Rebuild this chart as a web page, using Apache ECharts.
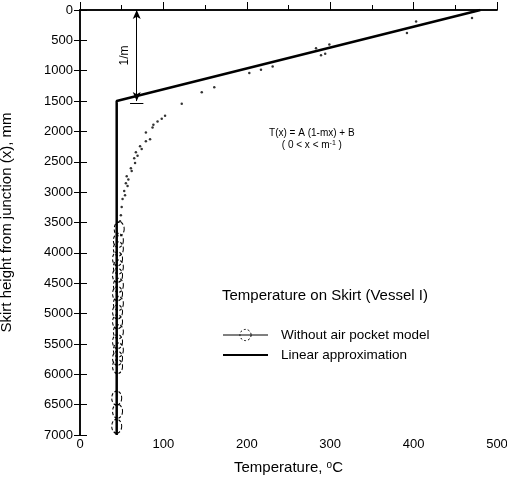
<!DOCTYPE html>
<html><head><meta charset="utf-8">
<script src="https://cdn.jsdelivr.net/npm/echarts/dist/echarts.min.js"></script>
<style>html,body{margin:0;padding:0;background:#fff}#c{width:507px;height:491px}</style>
</head><body><div id="c"></div>
<script>
// ---- data ----
const xTickLabels = [0, 100, 200, 300, 400, 500];
const yTickLabels = [0,500,1000,1500,2000,2500,3000,3500,4000,4500,5000,5500,6000,6500,7000];
// Linear approximation (Temperature, depth)
const linearT = [44, 44, 480];
const linearD = [7000, 1500, 0];
// Without air pocket model: upper small points
const dotsT = [472,470,403,392,299,283,294,289,231,217,203,161,146,122,102,98,93,88,87,79,84,79,72,74,67,69,65,66,61,62,56,58,55,57,53,54,51,50,49,48];
const dotsD = [20,130,190,377,568,628,721,745,929,983,1038,1273,1355,1545,1740,1790,1836,1890,1934,2016,2130,2160,2246,2290,2344,2400,2442,2520,2606,2650,2737,2790,2852,2900,2983,3050,3114,3245,3380,3480];
// Without air pocket model: lower circles
const circT = [47,46,46,45,46,45,46,45,46,45,45,46,45,46,45,45,44,45,44];
const circD = [3606,3797,3934,4098,4234,4371,4535,4672,4835,4972,5135,5299,5463,5600,5737,5873,6392,6610,6856];
// 1/m annotation
const arrowT = 68, arrowD = [1500, 0];
const formulaLines = ['T(x) = A (1-mx) + B', '( 0 < x < m{sup|-1} )'];
const formulaAt = [278, 2026];

const zip = (a, b) => a.map((v, i) => [v, b[i]]);
const FONT = '"Liberation Sans", Arial, sans-serif';

const chart = echarts.init(document.getElementById('c'));
chart.setOption({
  animation: false,
  textStyle: { fontFamily: FONT, color: '#000' },
  title: {
    text: 'Temperature on Skirt (Vessel I)',
    left: 222, top: 288, padding: 0,
    textStyle: { fontFamily: FONT, fontSize: 15, fontWeight: 'normal', color: '#000' }
  },
  legend: {
    orient: 'vertical', left: 222, top: 328, padding: 0,
    itemWidth: 45, itemHeight: 14, itemGap: 6,
    textStyle: { fontFamily: FONT, fontSize: 13.5, color: '#000', padding: [0,0,0,8] },
    data: [
      { name: 'Without air pocket model',
        lineStyle: { opacity: 1, width: 1, color: '#000' },
        itemStyle: { color: 'rgba(255,255,255,0)', borderColor: '#000', borderWidth: 1, borderType: [2, 2] } },
      { name: 'Linear approximation',
        lineStyle: { opacity: 1, width: 2, color: '#000' },
        itemStyle: { opacity: 0 } }
    ]
  },
  grid: { left: 80, right: 10, top: 10, bottom: 56, outerBoundsMode: 'none', containLabel: false },
  xAxis: [{
    type: 'value', min: 0, max: 500, interval: 100,
    name: 'Temperature, {sup|o}C', nameLocation: 'middle', nameGap: 25,
    nameTextStyle: { fontFamily: FONT, fontSize: 15, color: '#000',
      rich: { sup: { fontSize: 10, verticalAlign: 'top', padding: [0,0,6,0], fontFamily: FONT } } },
    axisLine: { show: true, lineStyle: { color: '#000', width: 1.5 } },
    axisTick: { inside: true, length: 8, lineStyle: { color: '#000' } },
    minorTick: { show: true, splitNumber: 2, length: 5, lineStyle: { color: '#000' } },
    splitLine: { show: false },
    axisLabel: { margin: 3, fontSize: 13, color: '#000', fontFamily: FONT,
      formatter: v => xTickLabels.includes(v) ? String(v) : '' }
  }, {
    type: 'value', min: 0, max: 500, interval: 100, position: 'top',
    axisLine: { show: true, lineStyle: { color: '#000', width: 1.5 } },
    axisTick: { show: false }, axisLabel: { show: false }, splitLine: { show: false }
  }],
  yAxis: [{
    type: 'value', inverse: true, min: 0, max: 7000, interval: 500,
    name: 'Skirt height from junction (x), mm', nameLocation: 'middle', nameGap: 66,
    nameTextStyle: { fontFamily: FONT, fontSize: 15, color: '#000' },
    axisLine: { show: true, lineStyle: { color: '#000', width: 1.5 } },
    axisTick: { inside: true, length: 7, lineStyle: { color: '#000' } },
    splitLine: { show: false },
    axisLabel: { margin: 7, fontSize: 13, color: '#000', fontFamily: FONT,
      formatter: v => yTickLabels.includes(v) ? String(v) : '' }
  }, {
    type: 'value', inverse: true, min: 0, max: 7000, interval: 500, position: 'right',
    axisLine: { show: true, lineStyle: { color: '#000', width: 1.5 } },
    axisTick: { inside: true, length: 6, lineStyle: { color: '#000' } },
    axisLabel: { show: false }, splitLine: { show: false }
  }],
  series: [
    {
      name: 'Without air pocket model', type: 'line',
      data: zip(circT, circD),
      lineStyle: { opacity: 0 },
      symbol: 'circle', symbolSize: [10, 14], showSymbol: true,
      itemStyle: { color: 'rgba(255,255,255,0)', borderColor: '#000', borderWidth: 1.2, borderType: [3, 2] },
      z: 3
    },
    {
      name: 'dots', type: 'scatter', data: zip(dotsT, dotsD),
      symbol: 'circle', symbolSize: 2.5, itemStyle: { color: '#000' }, z: 3
    },
    {
      name: 'Linear approximation', type: 'line',
      data: zip(linearT, linearD), symbol: 'none',
      lineStyle: { color: '#000', width: 2.5 }, itemStyle: { color: '#000' }, z: 4,
      markLine: {
        silent: true, animation: false,
        symbol: ['arrow', 'arrow'], symbolSize: [6, 9],
        lineStyle: { color: '#000', width: 1, type: 'solid' },
        label: { show: false },
        data: [
          [
            { coord: [arrowT, arrowD[0]], label: { show: true, formatter: '1/m', position: 'middle', distance: 6, fontSize: 12, color: '#000', fontFamily: FONT } },
            { coord: [arrowT, arrowD[1]] }
          ],
          [
            { coord: [arrowT - 8, arrowD[0] + 30], symbol: 'none' },
            { coord: [arrowT + 8, arrowD[0] + 30], symbol: 'none' }
          ]
        ]
      }
    }
  ]
});

const p = chart.convertToPixel({ xAxisIndex: 0, yAxisIndex: 0 }, formulaAt);
chart.setOption({
  graphic: formulaLines.map((t, i) => ({
    type: 'text', x: p[0], y: p[1] + i * 12, silent: true,
    style: {
      text: t, fill: '#000', font: '10px ' + FONT, align: 'center', verticalAlign: 'middle',
      rich: { sup: { fontSize: 7, verticalAlign: 'top', padding: [0, 0, 4, 0] } }
    }
  }))
});
</script>
</body></html>
